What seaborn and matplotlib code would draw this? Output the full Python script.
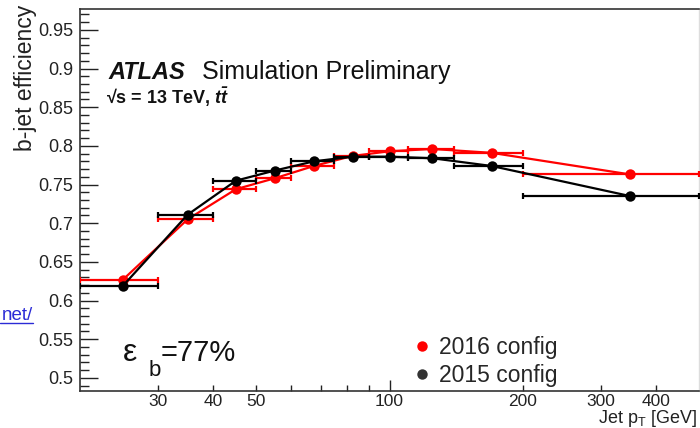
import numpy as np
import pandas as pd
import matplotlib
matplotlib.use("Agg")
import matplotlib.pyplot as plt
import seaborn as sns
from matplotlib.lines import Line2D
from matplotlib.ticker import MultipleLocator, FuncFormatter

# ---------------- data ----------------
pt_center = [25, 35, 45, 55, 67.5, 82.5, 100, 125, 170, 350]
pt_low = [20, 30, 40, 50, 60, 75, 90, 110, 140, 200]
pt_high = [30, 40, 50, 60, 75, 90, 110, 140, 200, 500]
eff_2016 = [0.627, 0.705, 0.744, 0.758, 0.774, 0.787, 0.793, 0.796, 0.791, 0.763]
eff_2015 = [0.619, 0.711, 0.755, 0.768, 0.780, 0.786, 0.786, 0.784, 0.774, 0.735]
configs = ["2016 config", "2015 config"]
colors = {"2016 config": "#ff0000", "2015 config": "#000000"}
y_major_ticks = [0.5, 0.55, 0.6, 0.65, 0.7, 0.75, 0.8, 0.85, 0.9, 0.95]
x_minor_ticks = [30, 40, 50, 60, 70, 80, 90, 200, 300, 400]
x_minor_labels = ["30", "40", "50", "", "", "", "", "200", "300", "400"]

rows = []
for cfg, vals in zip(configs, [eff_2016, eff_2015]):
    for c, lo, hi, v in zip(pt_center, pt_low, pt_high, vals):
        rows.append({"config": cfg, "pt": c, "lo": lo, "hi": hi, "eff": v})
df = pd.DataFrame(rows)

sns.set_theme(style="white")
plt.rcParams["font.family"] = ["Liberation Sans", "DejaVu Sans"]
plt.rcParams["mathtext.fontset"] = "custom"
plt.rcParams["mathtext.rm"] = "Liberation Sans"
plt.rcParams["mathtext.it"] = "Liberation Sans:italic"
plt.rcParams["mathtext.bf"] = "Liberation Sans:bold"
plt.rcParams["mathtext.bfit"] = "Liberation Sans:bold:italic"

W, H = 700, 428
fig = plt.figure(figsize=(W / 100, H / 100), dpi=100)
fig.patch.set_facecolor("white")
L, R, T, B = 80, 699, 9, 391
ax = fig.add_axes([L / W, (H - B) / H, (R - L) / W, (B - T) / H])

z = {"2016 config": 3, "2015 config": 4}
for cfg in configs:
    sub = df[df["config"] == cfg]
    sns.lineplot(data=sub, x="pt", y="eff", color=colors[cfg], marker="o",
                 markersize=7.5, markeredgewidth=0, linewidth=1.6,
                 sort=False, estimator=None, ax=ax, zorder=z[cfg])
    ax.errorbar(sub["pt"], sub["eff"],
                xerr=[sub["pt"] - sub["lo"], sub["hi"] - sub["pt"]],
                fmt="none", ecolor=colors[cfg], elinewidth=1.6,
                capsize=2.5, capthick=1.6, zorder=z[cfg])

ax.set_xscale("log")
ax.set_xlim(20, 500)
ax.set_ylim(0.483, 0.977)

ax.set_xticks([100], labels=["100"])
ax.set_xticks(x_minor_ticks, labels=x_minor_labels, minor=True)
ax.tick_params(axis="x", which="major", direction="in", length=8, width=1,
               labelsize=12.5, pad=2, bottom=True, colors="#222222")
ax.tick_params(axis="x", which="minor", direction="in", length=4, width=1,
               labelsize=12.5, pad=2, bottom=True, colors="#222222")

ax.set_yticks(y_major_ticks)
ax.yaxis.set_minor_locator(MultipleLocator(0.01))
ax.yaxis.set_major_formatter(FuncFormatter(lambda v, p: f"{v:g}"))
ax.tick_params(axis="y", which="major", direction="in", length=13, width=1,
               labelsize=13, pad=5, left=True, colors="#222222")
ax.tick_params(axis="y", which="minor", direction="in", length=6.5, width=1,
               left=True, colors="#222222")

for s in ["left", "bottom", "top"]:
    ax.spines[s].set_color("#333333")
    ax.spines[s].set_linewidth(1.2)
ax.spines["right"].set_color("#dddddd")
ax.spines["right"].set_linewidth(1.0)

ax.set_ylabel("b-jet efficiency", fontsize=16.5, color="#222222")
ax.yaxis.set_label_coords(-0.07, 1.012)
ax.yaxis.label.set_horizontalalignment("right")
ax.set_xlabel(r"Jet p$_{\mathregular{T}}$ [GeV]", fontsize=13, color="#222222")
ax.xaxis.set_label_coords(0.997, -0.044)
ax.xaxis.label.set_horizontalalignment("right")

def axx(px):
    return (px - L) / (R - L)

def axy(py):
    return (B - py) / (B - T)

ax.text(axx(108), axy(79), "ATLAS", transform=ax.transAxes, fontsize=17,
        fontweight="bold", fontstyle="italic", va="baseline", color="#111111")
ax.text(axx(202), axy(79), "Simulation Preliminary", transform=ax.transAxes,
        fontsize=18, va="baseline", color="#111111")
ax.text(axx(106), axy(104), r"√s = 13 TeV, $\mathbfit{t\bar{t}}$",
        transform=ax.transAxes, fontsize=13, fontweight="bold", va="baseline",
        color="#111111")

ax.text(axx(123), axy(353), "ε", transform=ax.transAxes, fontsize=23,
        va="center", ha="left", color="#111111")
ax.text(axx(149), axy(371), "b", transform=ax.transAxes, fontsize=16,
        va="center", ha="left", color="#111111")
ax.text(axx(161), axy(353), "=77%", transform=ax.transAxes, fontsize=21,
        va="center", ha="left", color="#111111")

handles = [Line2D([], [], marker="o", linestyle="none", markersize=7.5,
                  markeredgewidth=0, color=c) for c in ["#ff0000", "#333333"]]
ax.legend(handles, configs, loc="upper left",
          bbox_to_anchor=(axx(417), axy(336)), frameon=False, fontsize=16.5,
          handlelength=0.45, handletextpad=0.5, labelspacing=0.2,
          borderpad=0, borderaxespad=0)

fig.text(33 / W, 1 - 320 / H, "net/", ha="right", va="baseline",
         color="#2b2bd6", fontsize=13.5)
fig.add_artist(Line2D([0, 33 / W], [1 - 323 / H] * 2, color="#2b2bd6",
                      lw=1.0, transform=fig.transFigure))

fig.savefig("out.png", dpi=100, facecolor="white")
